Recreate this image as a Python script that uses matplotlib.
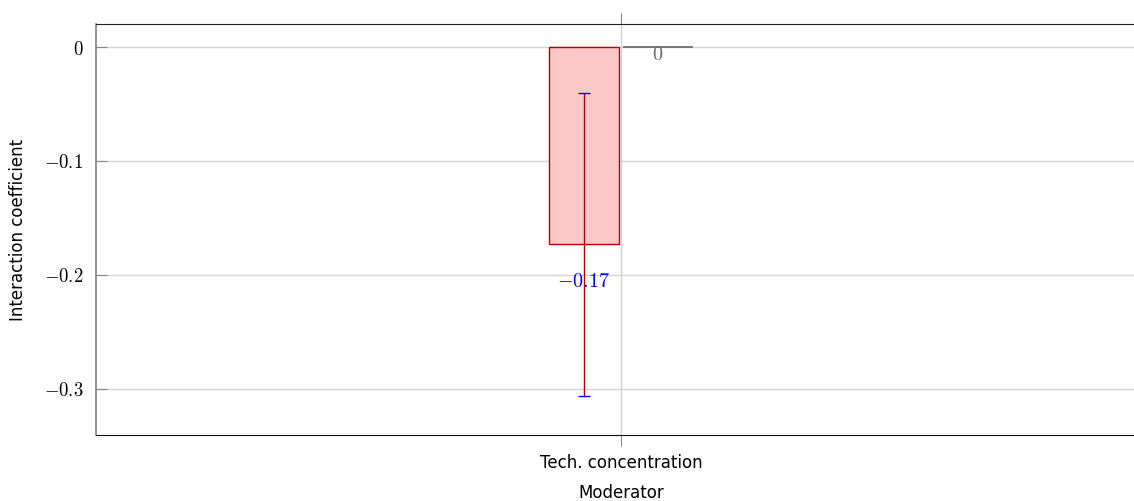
import matplotlib
matplotlib.use("Agg")
import matplotlib.pyplot as plt
import numpy as np

plt.rcParams['mathtext.fontset'] = 'cm'

# data
categories = ['Tech. concentration']
coef = [-0.173]
ci_low = [-0.306]
ci_high = [-0.04]
reference = [0.0]
coef_labels = ['$-0.17$']
ref_labels = ['$0$']
yticks = [0.0, -0.1, -0.2, -0.3]
ytick_labels = ['$0$', '$-0.1$', '$-0.2$', '$-0.3$']

fig = plt.figure(figsize=(11.34, 5.01), dpi=100)
ax = fig.add_axes([96 / 1134, 1 - 435 / 501, 1050 / 1134, 411 / 501])

x = np.arange(len(categories))
off = 0.53
w = 0.99

ax.bar(x - off, coef, width=w, color='#ffc8c8', edgecolor='#b00000', linewidth=1, zorder=3)
ax.bar(x + off, reference, width=w, color='#dddddd', edgecolor='#666666', linewidth=1.2, zorder=3)

coef = np.array(coef)
yerr = [coef - np.array(ci_low), np.array(ci_high) - coef]
_, caps, _ = ax.errorbar(x - off, coef, yerr=yerr, fmt='none', ecolor='#b00000',
                         elinewidth=1, capsize=4.5, capthick=1, zorder=4)
for c in caps:
    c.set_color('blue')
    c.set_markeredgecolor('blue')
    c.set_zorder(6)

for xi, v, lab in zip(x, coef, coef_labels):
    ax.annotate(lab, (xi - off, v), xytext=(0, -20), textcoords='offset points',
                ha='center', va='top', color='blue', fontsize=14.5, zorder=5)
for xi, v, lab in zip(x, reference, ref_labels):
    ax.annotate(lab, (xi + off, v), xytext=(0, 1.5), textcoords='offset points',
                ha='center', va='top', color='#666666', fontsize=14.5, zorder=5)

ax.set_xlim(-7.5, 7.5)
ax.set_ylim(-0.3404, 0.0202)
ax.set_yticks(yticks)
ax.set_yticklabels(ytick_labels, fontsize=13.5)
ax.set_xticks(x)
ax.set_xticklabels(categories, fontsize=12)

ax.grid(True, color='#d4d4d4', linewidth=1, zorder=0)
ax.set_axisbelow(True)

ax.tick_params(axis='y', direction='in', length=8, color='#888888', pad=9, left=True, right=False)
ax.tick_params(axis='x', direction='out', length=8, color='#888888', pad=6, top=True, bottom=True)

ax.spines['left'].set_color('#808080')
ax.spines['left'].set_linewidth(1.2)
ax.spines['top'].set_color('#222222')
ax.spines['bottom'].set_color('#111111')
ax.spines['right'].set_visible(False)

ax.set_ylabel('Interaction coefficient', fontsize=12, labelpad=12)
ax.set_xlabel('Moderator', fontsize=12, labelpad=8)

fig.savefig('out.png', dpi=100)
